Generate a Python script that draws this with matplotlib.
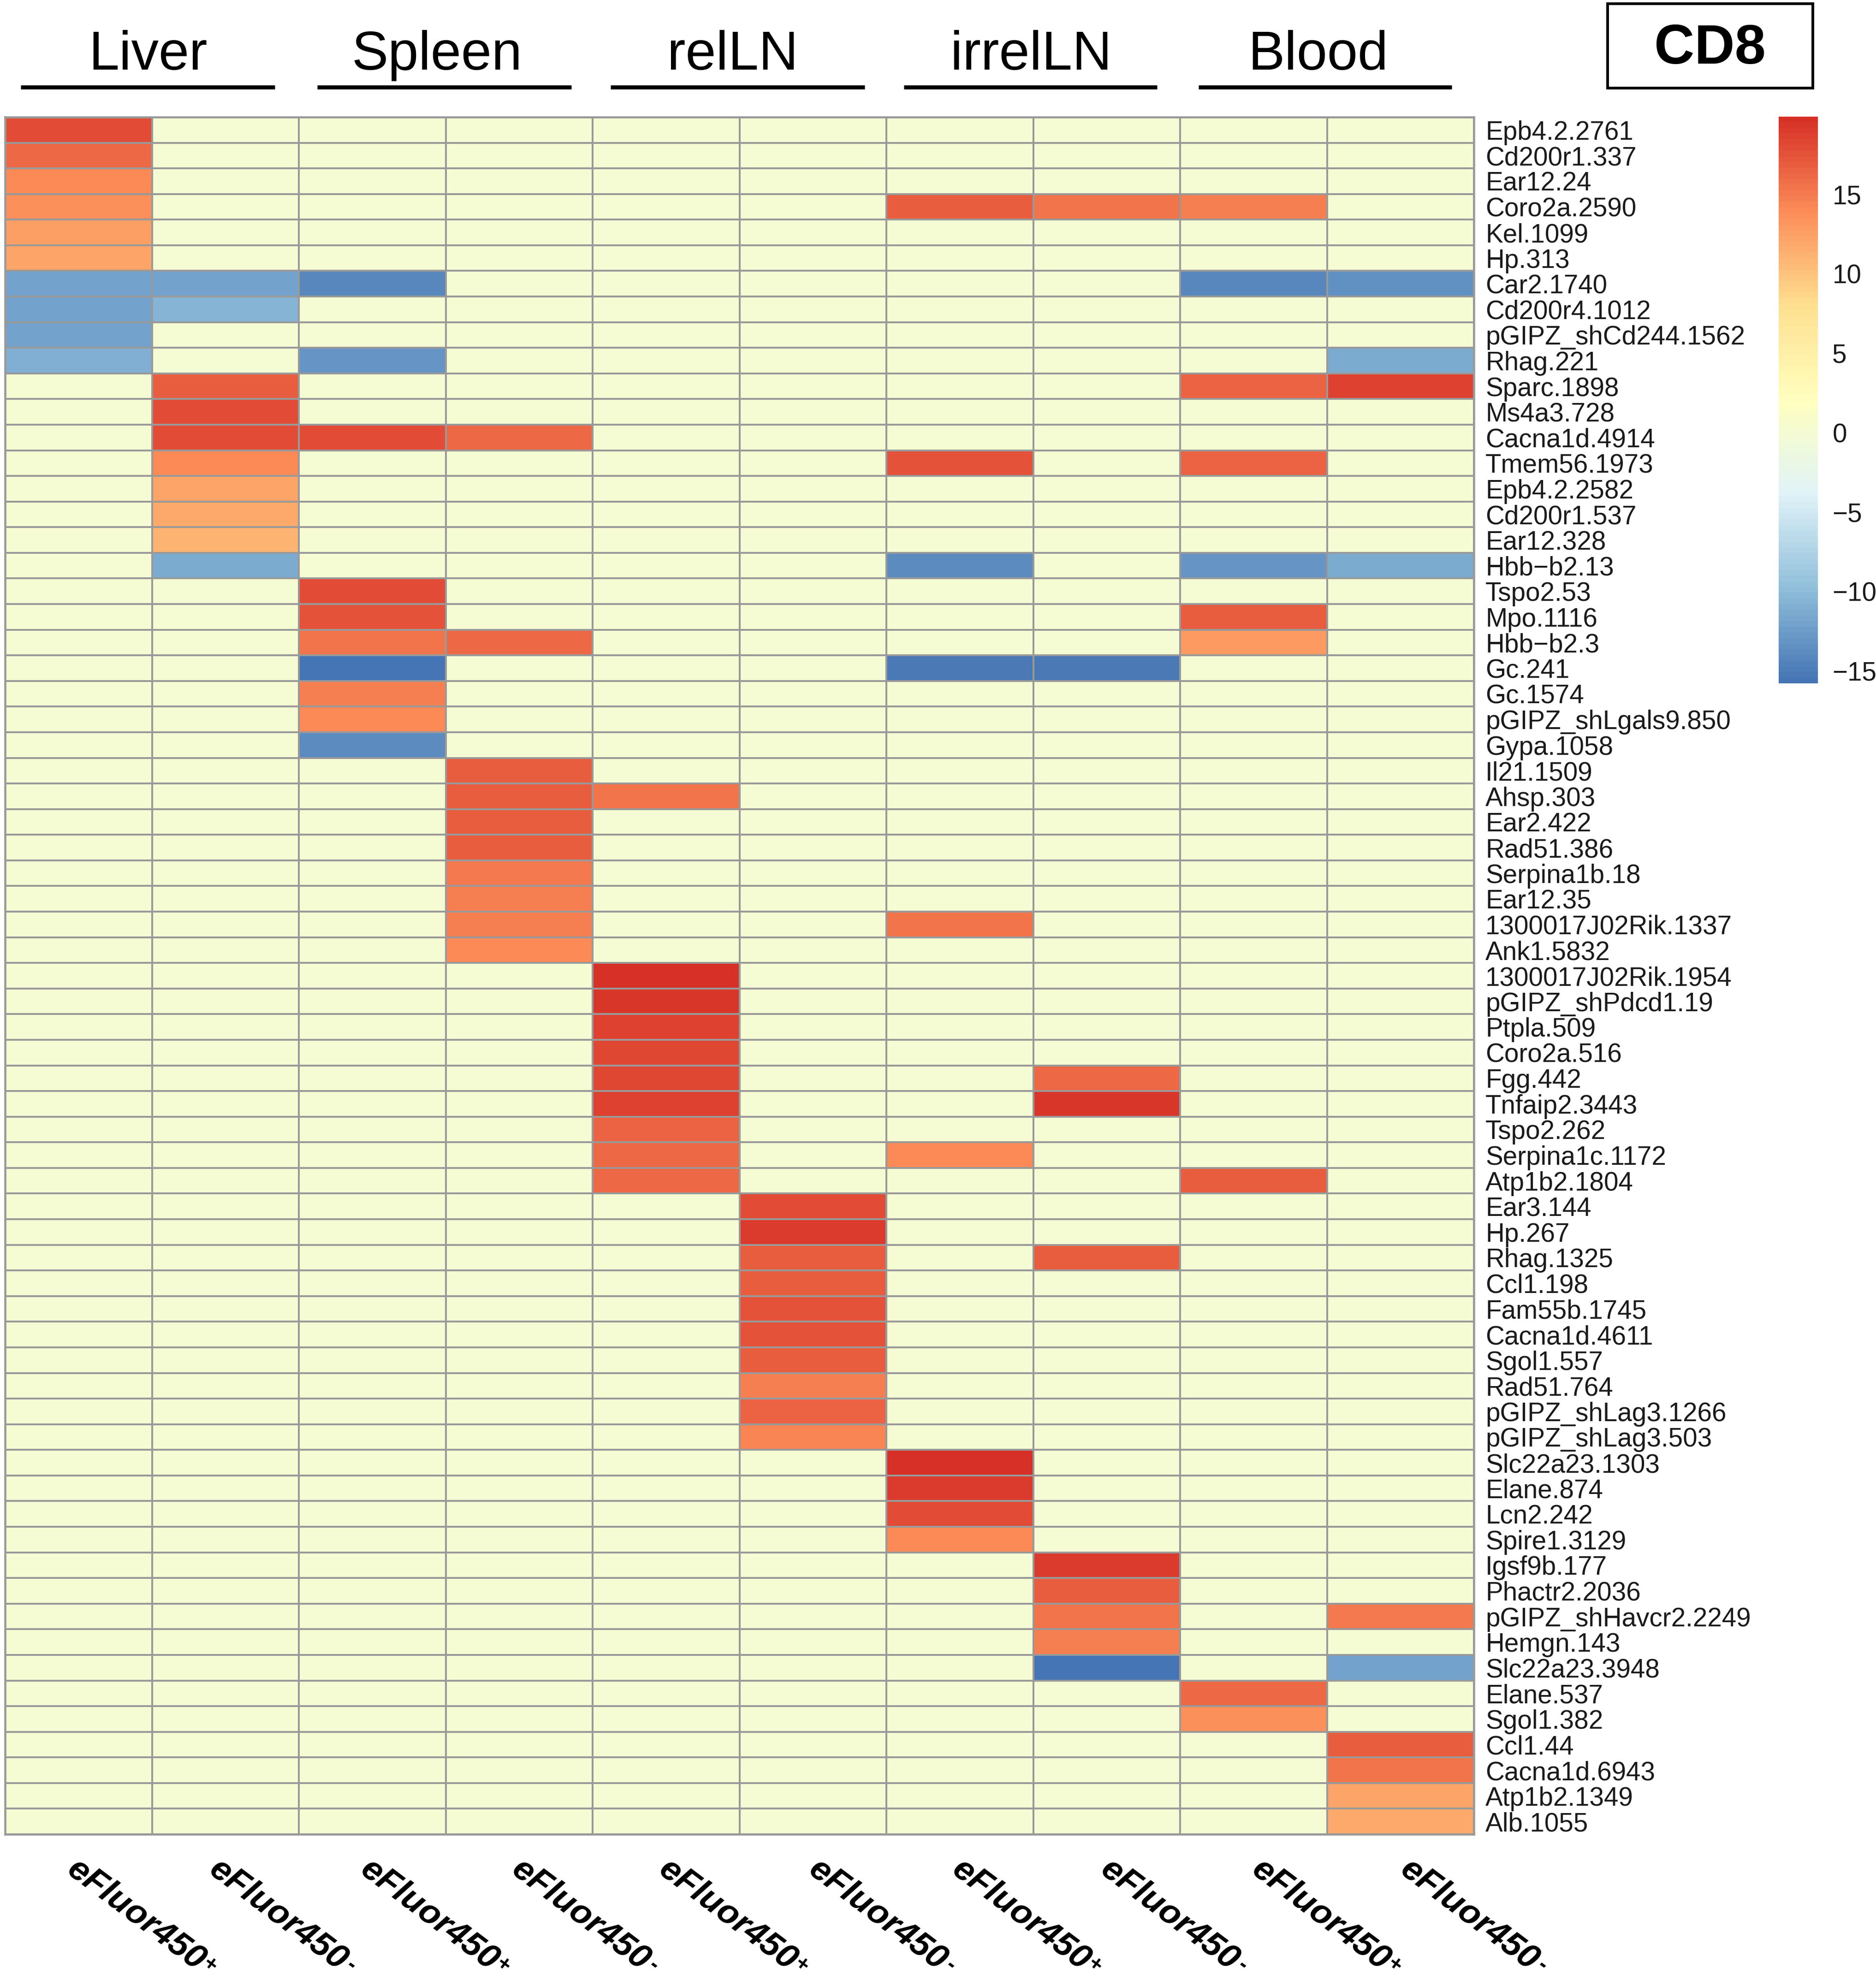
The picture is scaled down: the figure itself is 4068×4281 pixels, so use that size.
import matplotlib
matplotlib.use("Agg")
import matplotlib.pyplot as plt
import numpy as np
import pandas as pd
from matplotlib.colors import LinearSegmentedColormap, Normalize
from matplotlib.patches import Rectangle

W, H = 4068, 4281
DPI = 300

plt.rcParams['font.family'] = ['Liberation Sans', 'DejaVu Sans']

genes = [
    "Epb4.2.2761", "Cd200r1.337", "Ear12.24", "Coro2a.2590", "Kel.1099", "Hp.313",
    "Car2.1740", "Cd200r4.1012", "pGIPZ_shCd244.1562", "Rhag.221", "Sparc.1898",
    "Ms4a3.728", "Cacna1d.4914", "Tmem56.1973", "Epb4.2.2582", "Cd200r1.537",
    "Ear12.328", "Hbb−b2.13", "Tspo2.53", "Mpo.1116", "Hbb−b2.3", "Gc.241",
    "Gc.1574", "pGIPZ_shLgals9.850", "Gypa.1058", "Il21.1509", "Ahsp.303",
    "Ear2.422", "Rad51.386", "Serpina1b.18", "Ear12.35", "1300017J02Rik.1337",
    "Ank1.5832", "1300017J02Rik.1954", "pGIPZ_shPdcd1.19", "Ptpla.509",
    "Coro2a.516", "Fgg.442", "Tnfaip2.3443", "Tspo2.262", "Serpina1c.1172",
    "Atp1b2.1804", "Ear3.144", "Hp.267", "Rhag.1325", "Ccl1.198", "Fam55b.1745",
    "Cacna1d.4611", "Sgol1.557", "Rad51.764", "pGIPZ_shLag3.1266",
    "pGIPZ_shLag3.503", "Slc22a23.1303", "Elane.874", "Lcn2.242", "Spire1.3129",
    "Igsf9b.177", "Phactr2.2036", "pGIPZ_shHavcr2.2249", "Hemgn.143",
    "Slc22a23.3948", "Elane.537", "Sgol1.382", "Ccl1.44", "Cacna1d.6943",
    "Atp1b2.1349", "Alb.1055",
]

# only the coloured cells, everything else is 0
liver_pos = {"Epb4.2.2761": 18.1, "Cd200r1.337": 16.2, "Ear12.24": 14.0, "Coro2a.2590": 13.8,
             "Kel.1099": 12.5, "Hp.313": 12.3, "Car2.1740": -12.0, "Cd200r4.1012": -12.0,
             "pGIPZ_shCd244.1562": -12.0, "Rhag.221": -10.9}
liver_neg = {"Car2.1740": -12.0, "Cd200r4.1012": -10.6, "Sparc.1898": 17.0, "Ms4a3.728": 17.8,
             "Cacna1d.4914": 17.8, "Tmem56.1973": 13.9, "Epb4.2.2582": 12.1, "Cd200r1.537": 11.7,
             "Ear12.328": 11.2, "Hbb−b2.13": -11.3}
spleen_pos = {"Car2.1740": -14.2, "Rhag.221": -13.0, "Cacna1d.4914": 17.8, "Tspo2.53": 17.8,
              "Mpo.1116": 17.5, "Hbb−b2.3": 15.4, "Gc.241": -15.5, "Gc.1574": 14.9,
              "pGIPZ_shLgals9.850": 13.9, "Gypa.1058": -13.8}
spleen_neg = {"Cacna1d.4914": 16.3, "Hbb−b2.3": 16.3, "Il21.1509": 17.0, "Ahsp.303": 16.8,
              "Ear2.422": 17.0, "Rad51.386": 17.0, "Serpina1b.18": 15.0, "Ear12.35": 14.9,
              "1300017J02Rik.1337": 14.6, "Ank1.5832": 14.0}
relln_pos = {"Ahsp.303": 15.4, "1300017J02Rik.1954": 19.9, "pGIPZ_shPdcd1.19": 19.5,
             "Ptpla.509": 18.5, "Coro2a.516": 18.3, "Fgg.442": 18.3, "Tnfaip2.3443": 18.8,
             "Tspo2.262": 16.6, "Serpina1c.1172": 16.0, "Atp1b2.1804": 16.3}
relln_neg = {"Ear3.144": 18.0, "Hp.267": 19.0, "Rhag.1325": 17.0, "Ccl1.198": 17.0,
             "Fam55b.1745": 17.5, "Cacna1d.4611": 17.6, "Sgol1.557": 17.0, "Rad51.764": 14.6,
             "pGIPZ_shLag3.1266": 16.4, "pGIPZ_shLag3.503": 14.5}
irrelln_pos = {"Coro2a.2590": 17.0, "Tmem56.1973": 17.7, "Hbb−b2.13": -13.7, "Gc.241": -15.4,
               "1300017J02Rik.1337": 15.5, "Serpina1c.1172": 14.0, "Slc22a23.1303": 19.8,
               "Elane.874": 19.0, "Lcn2.242": 18.0, "Spire1.3129": 13.9}
irrelln_neg = {"Coro2a.2590": 15.6, "Gc.241": -15.4, "Fgg.442": 16.0, "Tnfaip2.3443": 19.5,
               "Rhag.1325": 16.7, "Igsf9b.177": 19.0, "Phactr2.2036": 17.0,
               "pGIPZ_shHavcr2.2249": 15.6, "Hemgn.143": 14.6, "Slc22a23.3948": -15.7}
blood_pos = {"Coro2a.2590": 14.7, "Car2.1740": -14.2, "Sparc.1898": 16.5, "Tmem56.1973": 16.5,
             "Hbb−b2.13": -13.0, "Mpo.1116": 16.7, "Hbb−b2.3": 12.9, "Atp1b2.1804": 16.8,
             "Elane.537": 16.0, "Sgol1.382": 13.8}
blood_neg = {"Car2.1740": -13.6, "Rhag.221": -11.3, "Sparc.1898": 18.5, "Hbb−b2.13": -11.3,
             "pGIPZ_shHavcr2.2249": 15.0, "Slc22a23.3948": -12.0, "Ccl1.44": 16.9,
             "Cacna1d.6943": 15.3, "Atp1b2.1349": 12.4, "Alb.1055": 12.0}

columns = [liver_pos, liver_neg, spleen_pos, spleen_neg, relln_pos,
           relln_neg, irrelln_pos, irrelln_neg, blood_pos, blood_neg]
column_signs = ["+", "-"] * 5
tissues = ["Liver", "Spleen", "relLN", "irrelLN", "Blood"]
colorbar_ticks = [-15, -10, -5, 0, 5, 10, 15]

scale_min, scale_max = -15.8, 19.9
palette = ["#4575B4", "#91BFDB", "#E0F3F8", "#FFFFBF", "#FEE090", "#FC8D59", "#D73027"]


def px_axes(fig, left, top, right, bottom):
    """Add an axes from pixel edges measured from the top left corner."""
    return fig.add_axes([left / W, 1 - bottom / H, (right - left) / W, (bottom - top) / H])


matrix = pd.DataFrame(columns).reindex(columns=genes).T.fillna(0.0)

cmap = LinearSegmentedColormap.from_list("rdylbu", palette, N=100)
norm = Normalize(scale_min, scale_max)

fig = plt.figure(figsize=(W / DPI, H / DPI), dpi=DPI)

# Page axes in pixel coordinates for the annotations
page = fig.add_axes([0, 0, 1, 1])
page.set_xlim(0, W)
page.set_ylim(H, 0)
page.axis("off")

# Heatmap
ax = px_axes(fig, 11, 254, 3196, 3978)
mesh = ax.pcolormesh(matrix.values, cmap=cmap, norm=norm,
                     edgecolors="#999999", linewidth=0.95)
ax.set_ylim(len(genes), 0)
ax.set_xticks([])
ax.yaxis.tick_right()
ax.set_yticks(np.arange(len(genes)) + 0.5, genes, fontsize=13.6, color="#1a1a1a")
ax.tick_params(axis="y", length=0, pad=6)
for spine in ax.spines.values():
    spine.set_edgecolor("#999999")
    spine.set_linewidth(1.1)

# Colorbar
cax = px_axes(fig, 3857, 253, 3942, 1482)
cbar = fig.colorbar(mesh, cax=cax)
cbar.set_ticks(colorbar_ticks)
cbar.set_ticklabels([str(t).replace("-", "−") for t in colorbar_ticks])
cbar.outline.set_visible(False)
cax.tick_params(length=0, pad=7.5, labelsize=13.6, labelcolor="#1a1a1a")

# Tissue headers with underlines
header_x = [321, 948, 1589, 2236, 2858]
line_spans = [(45, 596), (688, 1239), (1324, 1875), (1960, 2509), (2599, 3148)]
for name, x, (x0, x1) in zip(tissues, header_x, line_spans):
    page.text(x, 151, name, fontsize=28.5, ha="center", va="baseline")
    page.plot([x0, x1], [189, 189], color="black", lw=2.1, solid_capstyle="butt")

# CD8 box
page.add_patch(Rectangle((3486, 8), 445, 183, fill=False, ec="black", lw=1.4))
page.text(3708, 138, "CD8", fontsize=29, fontweight="bold", ha="center", va="baseline")

# Rotated sample labels, the sign is a small raised mark after the text
label_x = [142, 450, 778, 1106, 1425, 1750, 2061, 2383, 2711, 3033]
for x, sign in zip(label_x, column_signs):
    page.text(x, 4062, "eFluor450", fontsize=18, fontweight="bold", style="italic",
              rotation=-37, rotation_mode="anchor", ha="left", va="baseline")
    page.text(x + 312, 4262, sign, fontsize=11, fontweight="bold", style="italic",
              rotation=-37, rotation_mode="anchor", ha="center", va="center")

fig.savefig("out.png", dpi=DPI)
